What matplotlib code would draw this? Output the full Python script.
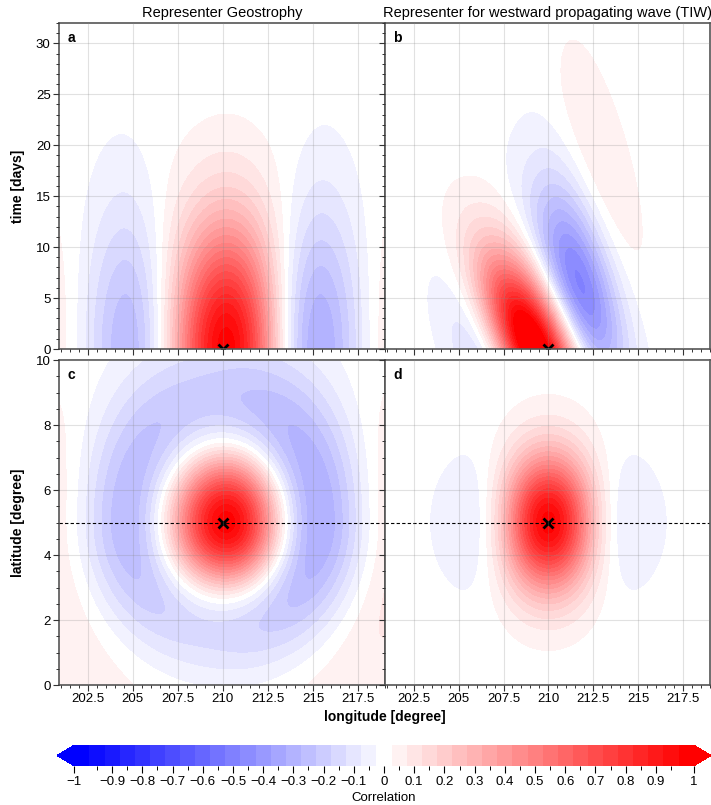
import numpy as np
import matplotlib.pyplot as plt
from matplotlib.colors import ListedColormap, BoundaryNorm
from matplotlib.ticker import FormatStrFormatter

plt.rcParams['font.family'] = ['Liberation Sans', 'DejaVu Sans']

# observation point and plot ranges
obs_lon, obs_lat = 210.0, 5.0
lon_lim = (200.9, 219.0)
time_lim = (0, 32)
lat_lim = (0, 10)

# geostrophic representer (deg): zero lines and envelope, [lon, lat north, lat south]
geo_inner = [3.5, 2.5, 2.4]
geo_outer = [8.4, 12.5, 5.5]
geo_env = [5.35, 3.1, 3.07]
geo_skew = 0.1
geo_polar = 0.2            # weaker negative ring north/south of the obs
geo_decay = [12.0, 14.0]   # e-folding time (days) at obs lon / at side lobes

# westward propagating wave (TIW) representer, [east, west] of the crest
tiw_speed = 0.27           # deg/day, westward
tiw_wavelength = [10.0, 11.0]  # deg
tiw_crest = -0.75          # crest offset from obs lon at t=0
tiw_env = [4.94, 3.0]      # envelope scale (deg of phase)
tiw_env_power = [1.63, 2.0]
tiw_lag = [0.96, 1.0]      # days per deg of phase
tiw_lag_growth = [0.135, 0.0]
tiw_decay = 8.4            # days
tiw_zero = 3.6             # lon of first zero crossing (d)
tiw_lon_env = 3.1
tiw_lat_env = 2.05

cbar_ticks = np.round(np.arange(-1, 1.01, 0.1), 1) + 0.0
levels = np.concatenate(([-1.0], np.arange(-0.975, 0.98, 0.05), [1.0]))
centers = np.linspace(-1, 1, 41)


def geostrophy(lon, lat):
    dx = lon - obs_lon
    dy = lat - obs_lat
    north = dy >= 0
    iy = np.where(north, geo_inner[1], geo_inner[2])
    oy = np.where(north, geo_outer[1], geo_outer[2])
    ey = np.where(north, geo_env[1], geo_env[2])
    inner = 1 - (dx / geo_inner[0]) ** 2 - (dy / iy) ** 2
    outer = 1 - (dx / geo_outer[0]) ** 2 - (dy / oy) ** 2
    env = np.exp(-(dx / geo_env[0]) ** 2 - (dy / ey) ** 2)
    f = inner * outer * env * (1 + geo_skew * np.tanh(dx / 2))
    side = dx ** 2 / (dx ** 2 + (1.4 * dy) ** 2 + 1e-9)
    return np.where(f < 0, f * (1 - geo_polar * (1 - side)), f)


def geo_time(lon, t):
    dx = lon - obs_lon
    T = geo_decay[1] - (geo_decay[1] - geo_decay[0]) * np.exp(-(dx / 4.5) ** 4)
    return geostrophy(lon, obs_lat) * np.exp(-(t / T) ** 2)


def tiw_time(lon, t):
    ds = lon - obs_lon + tiw_speed * t - tiw_crest
    i = np.where(ds > 0, 0, 1)
    L = np.take(tiw_env, i)
    p = np.take(tiw_env_power, i)
    lag = np.take(tiw_lag, i) + np.take(tiw_lag_growth, i) * ds
    lam = np.take(tiw_wavelength, i)
    amp = np.exp(-(np.abs(ds) / L) ** p)
    env_t = np.exp(-((t - lag * ds) / tiw_decay) ** 2)
    return amp * env_t * np.cos(2 * np.pi * ds / lam)


def tiw_space(lon, lat):
    dx = lon - obs_lon
    dy = lat - obs_lat
    return (1 - (dx / tiw_zero) ** 2) * np.exp(-(dx / tiw_lon_env) ** 2 - (dy / tiw_lat_env) ** 2)


lon = np.linspace(lon_lim[0], lon_lim[1], 400)
time = np.linspace(time_lim[0], time_lim[1], 400)
lat = np.linspace(lat_lim[0], lat_lim[1], 300)
LT, TT = np.meshgrid(lon, time)
LL, YY = np.meshgrid(lon, lat)

field_a = geo_time(LT, TT)
field_b = tiw_time(LT, TT) / tiw_time(obs_lon, 0.0)
field_c = geostrophy(LL, YY)
field_d = tiw_space(LL, YY)

colors = [(1 + c, 1 + c, 1) if c < 0 else (1, 1 - c, 1 - c) for c in centers]
cmap = ListedColormap(colors)
cmap.set_under((0, 0, 1))
cmap.set_over((1, 0, 0))
norm = BoundaryNorm(levels, cmap.N)

fig = plt.figure(figsize=(7.11, 8.05), dpi=100)
W, H = 711, 805


def add_ax(x0, y0, w, h):
    return fig.add_axes([x0 / W, 1 - (y0 + h) / H, w / W, h / H])


ax_a = add_ax(59, 23, 326, 326)
ax_b = add_ax(385, 23, 325, 326)
ax_c = add_ax(59, 360, 326, 325)
ax_d = add_ax(385, 360, 325, 325)

panels = [(ax_a, LT, TT, field_a), (ax_b, LT, TT, field_b),
          (ax_c, LL, YY, field_c), (ax_d, LL, YY, field_d)]
for ax, X, Y, F in panels:
    cf = ax.contourf(X, Y, F, levels=levels, cmap=cmap, norm=norm, extend='both')
    ax.set_xlim(lon_lim)
    ax.set_xticks([202.5, 205, 207.5, 210, 212.5, 215, 217.5])
    ax.set_xticks(np.arange(201, 219.01, 0.5), minor=True)
    ax.xaxis.set_major_formatter(FormatStrFormatter('%g'))
    ax.grid(True, color='#888888', alpha=0.25, lw=0.8)
    ax.set_axisbelow(False)
    ax.tick_params(which='major', direction='out', length=4, width=0.8,
                   labelsize=9.5, color='#333333', pad=2)
    ax.tick_params(which='minor', direction='out', length=2.5, width=0.7, color='#333333')
    for sp in ax.spines.values():
        sp.set_color('#555555')
        sp.set_linewidth(1.2)

for ax in (ax_a, ax_b):
    ax.set_ylim(time_lim)
    ax.set_yticks(np.arange(0, 31, 5))
    ax.set_yticks(np.arange(0, 32.01, 1), minor=True)
    ax.tick_params(labelbottom=False)
    ax.plot(obs_lon, 0, marker='x', ms=7, mew=2, color='k', clip_on=True)

for ax in (ax_c, ax_d):
    ax.set_ylim(lat_lim)
    ax.set_yticks(np.arange(0, 10.1, 2))
    ax.set_yticks(np.arange(0, 10.01, 0.5), minor=True)
    ax.axhline(obs_lat, color='k', lw=0.8, ls=(0, (3, 2)))
    ax.plot(obs_lon, obs_lat, marker='x', ms=7, mew=2, color='k')

for ax in (ax_b, ax_d):
    ax.tick_params(labelleft=False)

for ax, letter in zip((ax_a, ax_b, ax_c, ax_d), 'abcd'):
    ax.text(0.025, 0.975, letter, transform=ax.transAxes, ha='left', va='top',
            fontsize=10, fontweight='bold')

ax_a.set_title('Representer Geostrophy', fontsize=10.5, pad=4)
ax_b.set_title('Representer for westward propagating wave (TIW)', fontsize=10.5, pad=4)
ax_a.set_ylabel('time [days]', fontsize=10, fontweight='bold', labelpad=8)
ax_c.set_ylabel('latitude [degree]', fontsize=10, fontweight='bold', labelpad=8)
fig.text(385 / W, 1 - 717 / H, 'longitude [degree]', ha='center', va='center',
         fontsize=10, fontweight='bold')

cax = add_ax(57, 745, 654, 21)
cb = fig.colorbar(cf, cax=cax, orientation='horizontal', extend='both',
                  extendfrac=0.028, ticks=cbar_ticks, drawedges=False)
cb.ax.set_xticklabels([f'{v:g}'.replace('-', '\u2212') for v in cbar_ticks])
cb.ax.xaxis.set_ticks(np.arange(-0.95, 0.96, 0.1), minor=True)
cb.ax.tick_params(which='major', length=5, width=0.8, labelsize=9.5, pad=2)
cb.ax.tick_params(which='minor', length=3, width=0.7)
cb.outline.set_visible(False)
cb.set_label('Correlation', fontsize=9.5, labelpad=3)

fig.savefig('out.png', dpi=100)
